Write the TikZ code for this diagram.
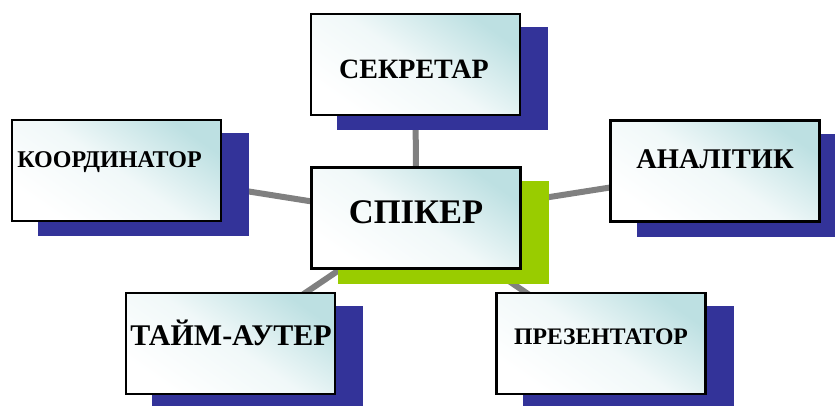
\documentclass[tikz,border=0pt]{standalone}
\usepackage{fontspec}
\setmainfont{Liberation Serif}
\definecolor{navyc}{RGB}{51,51,153}
\definecolor{greenc}{RGB}{153,204,0}
\definecolor{tealc}{RGB}{189,224,226}
\definecolor{linkc}{RGB}{128,128,128}
\tikzset{
  mainbox/.style={draw=black, line width=2.2pt, minimum width=209pt, minimum height=101pt, inner sep=0pt,
    top color=tealc, bottom color=white, middle color=tealc!22!white, shading angle=-35},
  shadowbox/.style={fill=navyc, minimum width=211pt, minimum height=103pt, inner sep=0pt},
  greenbox/.style={fill=greenc, minimum width=211pt, minimum height=103pt, inner sep=0pt},
  link/.style={draw=linkc, line width=6pt},
  lbl/.style={anchor=base, inner sep=0pt, font=\bfseries}
}
\begin{document}
\begin{tikzpicture}[x=1pt,y=-1pt]
\useasboundingbox (0,0) rectangle (835,405);
% centres of boxes
\coordinate (cS) at (416,218);
\coordinate (cSec) at (415.5,64.5);
\coordinate (cK) at (116.5,170.5);
\coordinate (cA) at (715,171);
\coordinate (cT) at (230.5,343.5);
\coordinate (cP) at (601,343.5);
% connectors
\draw[link] (cS) -- (cSec);
\draw[link] (cS) -- (cK);
\draw[link] (cS) -- (cA);
\draw[link] (cS) -- (cT);
\draw[link] (cS) -- (cP);
% shadows
\node[shadowbox] (shSec) at (442.5,78) {};
\node[shadowbox] (shK) at (143.5,184.5) {};
\node[shadowbox] (shA) at (742,185) {};
\node[shadowbox] (shT) at (257.5,357) {};
\node[shadowbox] (shP) at (628,357) {};
\node[greenbox] (shS) at (443,232) {};
% boxes
\node[mainbox] (bSec) at (cSec) {};
\node[mainbox] (bK) at (cK) {};
\node[mainbox] (bA) at (cA) {};
\node[mainbox] (bT) at (cT) {};
\node[mainbox] (bP) at (cP) {};
\node[mainbox] (bS) at (cS) {};
% labels
\node[lbl, font=\bfseries\fontsize{28}{28}\selectfont] (tSec) at (414,78) {СЕКРЕТАР};
\node[lbl, font=\bfseries\fontsize{24}{24}\selectfont] (tK) at (109.5,167) {КООРДИНАТОР};
\node[lbl, font=\bfseries\fontsize{34.5}{34.5}\selectfont] (tS) at (416,223) {СПІКЕР};
\node[lbl, font=\bfseries\fontsize{28.5}{28.5}\selectfont] (tA) at (715,168) {АНАЛІТИК};
\node[lbl, font=\bfseries\fontsize{30}{30}\selectfont] (tT) at (231,345) {ТАЙМ-АУТЕР};
\node[lbl, font=\bfseries\fontsize{23.7}{23.7}\selectfont] (tP) at (601,344) {ПРЕЗЕНТАТОР};
\end{tikzpicture}
\end{document}
